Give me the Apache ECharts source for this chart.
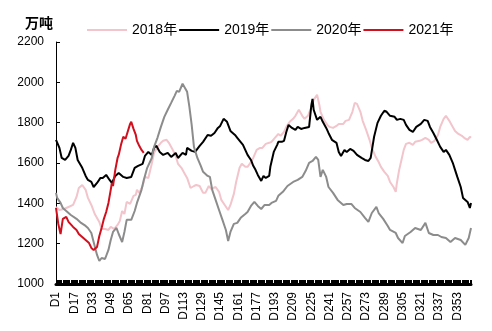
<!DOCTYPE html>
<html>
<head>
<meta charset="utf-8">
<script src="https://cdn.jsdelivr.net/npm/echarts/dist/echarts.min.js"></script>
<style>
  html, body { margin: 0; padding: 0; background: #fff; }
  #chart { width: 492px; height: 331px; }
</style>
</head>
<body>
<div id="chart"></div>
<script>
// Day-of-year categories D1 .. D365
const dayLabels = [];
for (let d = 1; d <= 365; d++) dayLabels.push('D' + d);

const yearNames = ['2018年', '2019年', '2020年', '2021年'];

// [day number, 万吨]
const stock2018 = [
  [1,1382],[4,1367],[8,1372],[12,1382],[16,1392],[19,1432],[21,1476],[24,1491],[27,1467],[29,1427],
  [32,1392],[35,1347],[39,1308],[41,1273],[44,1273],[47,1268],[49,1283],[52,1273],[55,1293],[57,1313],
  [59,1362],[61,1347],[63,1407],[66,1397],[69,1437],[71,1442],[72,1467],[74,1452],[77,1486],[79,1531],
  [82,1526],[85,1596],[87,1650],[90,1680],[93,1700],[95,1710],[98,1715],[100,1700],[103,1670],[106,1635],
  [108,1596],[111,1576],[114,1546],[116,1526],[119,1476],[122,1486],[124,1491],[127,1486],[130,1452],[132,1452],
  [135,1486],[137,1471],[141,1481],[144,1457],[146,1417],[149,1392],[152,1367],[154,1392],[157,1447],[159,1506],
  [162,1576],[164,1596],[167,1581],[169,1581],[172,1605],[174,1625],[177,1665],[180,1675],[182,1675],[185,1695],
  [188,1700],[190,1705],[193,1725],[196,1744],[198,1735],[201,1754],[203,1779],[206,1804],[209,1819],[211,1834],
  [214,1864],[217,1834],[219,1819],[222,1834],[225,1878],[227,1913],[230,1938],[232,1888],[233,1854],[236,1814],
  [239,1789],[241,1779],[244,1774],[247,1784],[249,1794],[253,1794],[255,1809],[258,1814],[261,1854],[263,1898],
  [265,1893],[268,1854],[270,1809],[273,1764],[276,1715],[278,1675],[281,1635],[284,1605],[286,1581],[289,1556],
  [292,1536],[294,1506],[297,1481],[299,1457],[300,1501],[302,1566],[304,1615],[306,1665],[308,1695],[311,1700],
  [314,1690],[316,1705],[320,1710],[322,1715],[325,1725],[328,1715],[330,1700],[333,1710],[336,1739],[338,1779],
  [341,1819],[343,1834],[346,1809],[349,1779],[351,1759],[354,1744],[357,1735],[359,1725],[362,1715],[364,1730],[365,1725]
];

const stock2019 = [
  [1,1715],[4,1675],[6,1625],[9,1615],[12,1635],[14,1665],[16,1700],[18,1675],[20,1615],[24,1576],
  [27,1536],[29,1516],[32,1506],[34,1481],[37,1501],[40,1526],[42,1526],[45,1541],[48,1516],[50,1501],
  [53,1536],[56,1551],[60,1531],[63,1526],[67,1531],[70,1576],[73,1586],[77,1596],[79,1635],[82,1655],
  [85,1640],[87,1675],[89,1685],[92,1655],[95,1640],[99,1650],[102,1630],[106,1650],[108,1625],[112,1650],
  [115,1640],[116,1675],[120,1660],[123,1655],[127,1685],[130,1705],[134,1739],[137,1735],[140,1749],[143,1774],
  [145,1784],[148,1819],[151,1804],[154,1759],[158,1739],[160,1725],[165,1690],[167,1665],[169,1640],[172,1615],
  [174,1586],[176,1566],[178,1541],[181,1511],[183,1536],[185,1526],[188,1536],[189,1581],[192,1655],[195,1690],
  [196,1705],[199,1705],[201,1710],[203,1754],[205,1789],[208,1774],[211,1764],[213,1779],[216,1769],[219,1774],
  [223,1779],[225,1888],[226,1918],[227,1864],[230,1814],[233,1829],[235,1804],[238,1774],[240,1749],[243,1715],
  [247,1700],[249,1655],[251,1635],[254,1665],[256,1655],[259,1670],[262,1660],[265,1640],[269,1625],[272,1615],
  [275,1610],[277,1625],[280,1730],[283,1799],[286,1834],[289,1859],[291,1854],[294,1834],[298,1829],[300,1814],
  [303,1819],[306,1814],[308,1789],[311,1764],[314,1754],[317,1779],[321,1794],[324,1814],[327,1809],[329,1779],
  [332,1749],[335,1715],[338,1680],[341,1655],[343,1665],[346,1640],[349,1601],[351,1566],[353,1531],[356,1481],
  [358,1427],[360,1417],[362,1407],[364,1377],[365,1402]
];

const stock2020 = [
  [1,1452],[2,1427],[5,1402],[7,1377],[10,1362],[14,1342],[19,1323],[23,1303],[27,1288],[29,1278],
  [32,1253],[34,1208],[37,1144],[39,1114],[41,1129],[44,1124],[47,1169],[49,1218],[51,1258],[54,1278],
  [56,1248],[59,1208],[61,1258],[63,1318],[67,1318],[70,1362],[72,1402],[76,1467],[78,1516],[81,1576],
  [85,1625],[87,1680],[90,1725],[93,1779],[96,1829],[99,1864],[102,1898],[105,1933],[107,1958],[109,1953],
  [112,1993],[114,1973],[116,1953],[118,1878],[120,1789],[122,1680],[125,1625],[128,1586],[130,1556],[134,1536],
  [136,1531],[138,1467],[141,1417],[144,1367],[147,1318],[150,1268],[152,1213],[154,1258],[157,1298],[160,1303],
  [163,1328],[167,1347],[169,1357],[172,1387],[175,1407],[178,1387],[181,1372],[184,1392],[188,1392],[190,1402],
  [194,1412],[196,1437],[200,1457],[204,1486],[209,1506],[213,1516],[217,1531],[220,1561],[223,1601],[226,1610],
  [229,1630],[231,1615],[233,1531],[235,1566],[238,1531],[240,1481],[244,1452],[248,1417],[253,1392],[256,1397],
  [260,1397],[263,1377],[268,1357],[272,1328],[275,1308],[278,1352],[282,1382],[284,1352],[288,1323],[292,1288],
  [294,1268],[299,1253],[301,1228],[305,1203],[307,1238],[312,1258],[316,1278],[321,1268],[325,1303],[328,1253],
  [332,1243],[336,1243],[339,1233],[343,1228],[347,1208],[351,1228],[356,1218],[360,1194],[363,1228],[365,1278]
];

const stock2021 = [
  [1,1377],[3,1298],[5,1248],[7,1323],[10,1333],[12,1308],[16,1283],[19,1268],[21,1248],[25,1228],
  [27,1218],[30,1203],[32,1179],[34,1169],[37,1184],[39,1238],[41,1278],[43,1323],[45,1357],[47,1402],
  [49,1467],[50,1501],[51,1486],[53,1566],[55,1625],[56,1640],[58,1690],[60,1730],[62,1720],[63,1739],
  [64,1739],[66,1794],[67,1804],[69,1769],[71,1739],[72,1710],[74,1685],[76,1665],[78,1650]
];

const yearColors = ['#f2c4cb', '#000000', '#8c8c8c', '#d0101e'];
const yearData = [stock2018, stock2019, stock2020, stock2021];

const FONT = "'Liberation Sans', 'Noto Sans CJK SC', sans-serif";

const chart = echarts.init(document.getElementById('chart'), null, { renderer: 'canvas' });

chart.setOption({
  animation: false,
  backgroundColor: '#fff',
  title: {
    text: '万吨',
    left: 20,
    top: 11,
    textStyle: { fontSize: 14, fontWeight: 'bold', color: '#000', fontFamily: "'Noto Sans CJK SC', sans-serif" }
  },
  legend: {
    left: 82,
    top: 18,
    icon: 'rect',
    itemWidth: 40,
    itemHeight: 2,
    itemGap: 2,
    textStyle: { fontSize: 14, color: '#000', fontFamily: FONT },
    data: yearNames
  },
  grid: { left: 56, right: 21, top: 42, bottom: 47 },
  xAxis: {
    type: 'category',
    data: dayLabels,
    boundaryGap: false,
    axisLine: { lineStyle: { color: '#000', width: 3 } },
    axisTick: { show: true, interval: 0, inside: true, length: 4, lineStyle: { color: '#000' } },
    axisLabel: { interval: 15, rotate: 90, fontSize: 12, margin: 8, color: '#000', fontFamily: FONT },
    splitLine: { show: false }
  },
  yAxis: {
    type: 'value',
    min: 1000,
    max: 2200,
    interval: 200,
    axisLine: { show: true, lineStyle: { color: '#000', width: 1 } },
    axisTick: { show: true, inside: true, length: 4, lineStyle: { color: '#000' } },
    axisLabel: { fontSize: 12, margin: 12, color: '#000', fontFamily: FONT, formatter: v => String(v) },
    splitLine: { show: false }
  },
  series: yearNames.map((name, i) => ({
    name: name,
    type: 'line',
    symbol: 'none',
    showSymbol: false,
    color: yearColors[i],
    lineStyle: { width: 2, color: yearColors[i] },
    data: yearData[i].map(p => [p[0] - 1, p[1]])
  }))
});
</script>
</body>
</html>
